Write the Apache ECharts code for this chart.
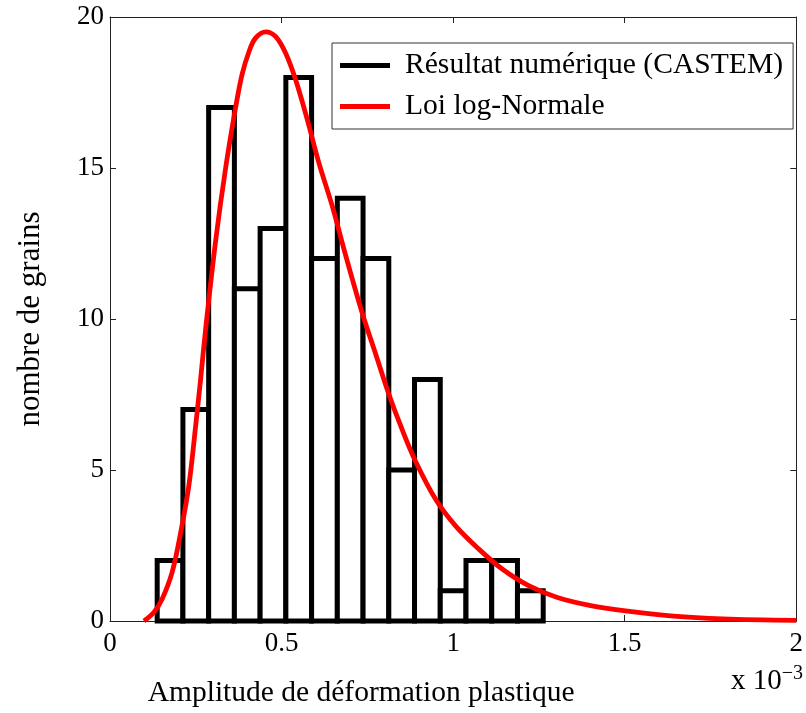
<!DOCTYPE html>
<html>
<head>
<meta charset="utf-8">
<script src="https://cdn.jsdelivr.net/npm/echarts@6/dist/echarts.min.js"></script>
<style>
  html, body { margin: 0; padding: 0; background: #fff; }
  #chart { width: 806px; height: 713px; }
</style>
</head>
<body>
<div id="chart"></div>
<script>
// ---- data ----
const seriesNames = ['Résultat numérique (CASTEM)', 'Loi log-Normale'];
// histogram bin edges (x 10^-3)
const binEdges = [0.1375, 0.2125, 0.2875, 0.3625, 0.4375, 0.5125, 0.5875, 0.6625,
                  0.7375, 0.8125, 0.8875, 0.9625, 1.0375, 1.1125, 1.1875, 1.2625];
// counts per bin
const counts = [2, 7, 17, 11, 13, 18, 12, 14, 12, 5, 8, 1, 2, 2, 1];
// fitted log-normal curve
const curveX = [0.099, 0.128, 0.152, 0.181, 0.206, 0.230, 0.250, 0.264, 0.279, 0.308,
                0.337, 0.366, 0.385, 0.405, 0.424, 0.454, 0.483, 0.512, 0.541, 0.575,
                0.609, 0.648, 0.687, 0.735, 0.774, 0.813, 0.851, 0.890, 0.949, 1.007,
                1.075, 1.143, 1.220, 1.304, 1.401, 1.497, 1.642, 1.786, 2.0];
const curveY = [0.0, 0.29, 0.73, 1.61, 2.93, 4.5, 6.5, 8.0, 9.7, 12.6,
                15.0, 17.0, 18.1, 18.85, 19.3, 19.51, 19.35, 18.8, 17.92, 16.6,
                15.16, 13.73, 12.1, 10.2, 8.85, 7.5, 6.35, 5.3, 4.03, 3.15,
                2.38, 1.72, 1.17, 0.78, 0.51, 0.34, 0.16, 0.07, 0.02];
const xRange = [0, 2], xStep = 0.5;
const yRange = [0, 20], yStep = 5;
const xLabel = 'Amplitude de déformation plastique';
const yLabel = 'nombre de grains';
const xScaleNote = 'x 10{s|\u22123}';

// ---- build ----
const histData = counts.map((c, i) => [binEdges[i], binEdges[i + 1], c]);
const curveData = curveX.map((x, i) => [x, curveY[i]]);

const FONT = '"Liberation Serif", "Times New Roman", serif';
const axisCommon = {
  type: 'value',
  splitLine: { show: false },
  axisLine: { show: true, onZero: false, lineStyle: { color: '#222', width: 1 } },
  axisTick: { show: true, inside: true, length: 6, lineStyle: { color: '#222', width: 1 } },
};

const chart = echarts.init(document.getElementById('chart'), null, { renderer: 'canvas' });
chart.setOption({
  animation: false,
  backgroundColor: '#fff',
  grid: { left: 110, right: 6, top: 17, bottom: 91, containLabel: false },
  xAxis: [
    Object.assign({}, axisCommon, {
      position: 'bottom', min: xRange[0], max: xRange[1], interval: xStep,
      axisLabel: { color: '#000', fontFamily: FONT, fontSize: 27, margin: 9 },
      name: xLabel, nameLocation: 'middle', nameGap: 57,
      nameTextStyle: { color: '#000', fontFamily: FONT, fontSize: 29.5, padding: [0, 184, 0, 0] }
    }),
    Object.assign({}, axisCommon, {
      position: 'top', min: xRange[0], max: xRange[1], interval: xStep,
      axisLabel: { show: false }
    })
  ],
  yAxis: [
    Object.assign({}, axisCommon, {
      position: 'left', min: yRange[0], max: yRange[1], interval: yStep,
      axisLabel: { color: '#000', fontFamily: FONT, fontSize: 27, margin: 6 },
      name: yLabel, nameLocation: 'middle', nameGap: 64,
      nameTextStyle: { color: '#000', fontFamily: FONT, fontSize: 31 }
    }),
    Object.assign({}, axisCommon, {
      position: 'right', min: yRange[0], max: yRange[1], interval: yStep,
      axisLabel: { show: false }
    })
  ],
  legend: {
    orient: 'vertical',
    left: 332, top: 43,
    padding: [6, 10, 6, 8],
    itemGap: 8,
    itemWidth: 50, itemHeight: 5,
    backgroundColor: '#fff',
    borderColor: '#333', borderWidth: 1, borderRadius: 0,
    textStyle: { color: '#000', fontFamily: FONT, fontSize: 29.6, lineHeight: 33, padding: [0, 0, 0, 10] },
    data: [
      { name: seriesNames[0], icon: 'rect', itemStyle: { color: '#000' } },
      { name: seriesNames[1], icon: 'rect', itemStyle: { color: '#ff0000' } }
    ]
  },
  graphic: [{
    type: 'text',
    right: 3, top: 664,
    style: {
      text: xScaleNote,
      font: '29px ' + FONT,
      fill: '#000',
      rich: { s: { fontSize: 20, fontFamily: FONT, padding: [0, 0, 15, 0], fill: '#000' } }
    }
  }],
  series: [
    {
      name: seriesNames[0],
      type: 'custom',
      xAxisIndex: 0, yAxisIndex: 0,
      itemStyle: { color: '#000' },
      encode: { x: [0, 1], y: 2 },
      data: histData,
      z: 2,
      renderItem: function (params, api) {
        const p0 = api.coord([api.value(0), 0]);
        const p1 = api.coord([api.value(1), api.value(2)]);
        return {
          type: 'rect',
          shape: { x: p0[0], y: p1[1], width: p1[0] - p0[0], height: p0[1] - p1[1] },
          style: { fill: '#fff', stroke: '#000', lineWidth: 5, lineJoin: 'miter' }
        };
      }
    },
    {
      name: seriesNames[1],
      type: 'line',
      xAxisIndex: 0, yAxisIndex: 0,
      data: curveData,
      smooth: 0.35,
      showSymbol: false,
      symbol: 'none',
      itemStyle: { color: '#ff0000' },
      lineStyle: { color: '#ff0000', width: 4.8 },
      z: 5
    }
  ]
});
</script>
</body>
</html>
